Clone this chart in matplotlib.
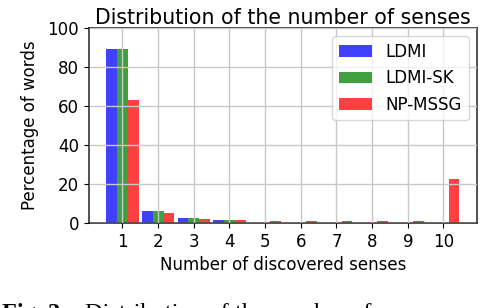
import numpy as np
import matplotlib
matplotlib.use('Agg')
import matplotlib.pyplot as plt

plt.rcParams['font.family'] = ['DejaVu Sans']

senses = [1, 2, 3, 4, 5, 6, 7, 8, 9, 10]
ldmi = [89.0, 6.2, 2.6, 1.5, 0, 0, 0, 0, 0, 0]
ldmi_sk = [89.0, 6.2, 2.6, 1.5, 0, 0, 0, 0, 0, 0]
np_mssg = [63.0, 5.2, 1.9, 1.5, 1.0, 1.0, 1.0, 1.0, 1.0, 22.8]

x = np.array(senses)
w = 0.3

fig = plt.figure(figsize=(4.8, 3.08), dpi=100)
ax = fig.add_axes([0.185, 0.276, 0.809, 0.633])

ax.bar(x - w, ldmi, w, color='b', alpha=0.75, label='LDMI')
ax.bar(x, ldmi_sk, w, color='g', alpha=0.75, label='LDMI-SK')
ax.bar(x + w, np_mssg, w, color='r', alpha=0.75, label='NP-MSSG')

ax.set_ylim(0, 100)
ax.set_yticks([0, 20, 40, 60, 80, 100])
ax.set_xticks(senses)
ax.tick_params(labelsize=12)
ax.grid(True, color='#c8c8c8', linewidth=1)
ax.set_axisbelow(False)
for s in ax.spines.values():
    s.set_color('#222222')
    s.set_linewidth(1.1)

ax.set_title('Distribution of the number of senses', fontsize=14.8, pad=3)
ax.set_xlabel('Number of discovered senses', fontsize=12, labelpad=4)
ax.set_ylabel('Percentage of words', fontsize=12, labelpad=6)
ax.legend(loc='upper right', fontsize=12, framealpha=0.8)

# caption of the paper, cut off at the bottom of the picture
fig.text(0.005, -0.035, 'Fig. 2:', family='Liberation Serif', weight='bold',
         fontsize=17.5, va='baseline')
fig.text(0.177, -0.035, 'Distribution of the number of senses',
         family='Liberation Serif', fontsize=17.5, va='baseline')

fig.savefig('out.png', dpi=100)
